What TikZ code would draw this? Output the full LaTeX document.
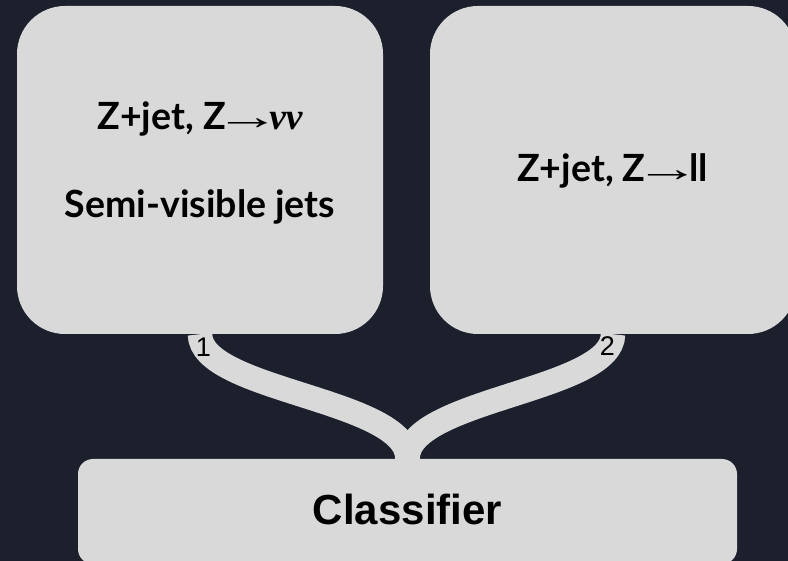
\documentclass[tikz,border=0pt]{standalone}
\usepackage{fontspec}
\newfontfamily\latofont{Lato}
\newfontfamily\arialfont{Liberation Sans}
\newfontfamily\symfont{Liberation Serif}
\definecolor{bgdark}{HTML}{1B202C}
\definecolor{boxgray}{HTML}{D9D9D9}
\newcommand{\thinarrow}{\kern-11pt\scalebox{1.75}[1]{\symfont\mdseries\upshape →}\kern-11pt}
\newcommand{\boldnu}{{\symfont\bfseries\itshape νν}}
\tikzset{
  panel/.style={fill=boxgray, draw=none, inner sep=0pt, rounded corners=48pt,
    minimum width=366pt, minimum height=328pt},
  classbox/.style={fill=boxgray, draw=none, inner sep=0pt, rounded corners=15pt,
    minimum width=659pt, minimum height=105pt},
  paneltext/.style={anchor=base, inner sep=0pt, text=black,
    font=\latofont\bfseries\fontsize{37.5}{44}\selectfont},
  classtext/.style={anchor=base, inner sep=0pt, text=black,
    font=\arialfont\bfseries\fontsize{42}{50}\selectfont},
  portlabel/.style={anchor=base, inner sep=0pt, text=black,
    font=\arialfont\fontsize{27}{32}\selectfont},
  flow/.style={draw=boxgray, line width=24.5pt}
}
\begin{document}
\begin{tikzpicture}[x=1pt,y=-1pt]
\useasboundingbox (0,0) rectangle (788,561);
\fill[bgdark] (0,0) rectangle (788,561);
\clip (0,0) rectangle (788,561);
% boxes
\node[panel] (left) at (200,170) {};
\node[panel] (right) at (613,170) {};
\node[classbox] (cls) at (407.5,511.5) {};
% connectors
\draw[flow] (left.south) .. controls +(0,57) and +(0,-60) .. (cls.north);
\draw[flow] (right.south) .. controls +(0,57) and +(0,-60) .. (cls.north);
% texts
\node[paneltext] (l1) at (200,130) {Z+jet, Z\thinarrow\boldnu};
\node[paneltext] (l2) at (200,218) {Semi-visible jets};
\node[paneltext] (r1) at (612.5,182) {Z+jet, Z\thinarrow ll};
\node[classtext] (ct) at (407.5,525) {Classifier};
\node[portlabel] (p1) at (203.5,357) {1};
\node[portlabel] (p2) at (607.5,356) {2};
\end{tikzpicture}
\end{document}
